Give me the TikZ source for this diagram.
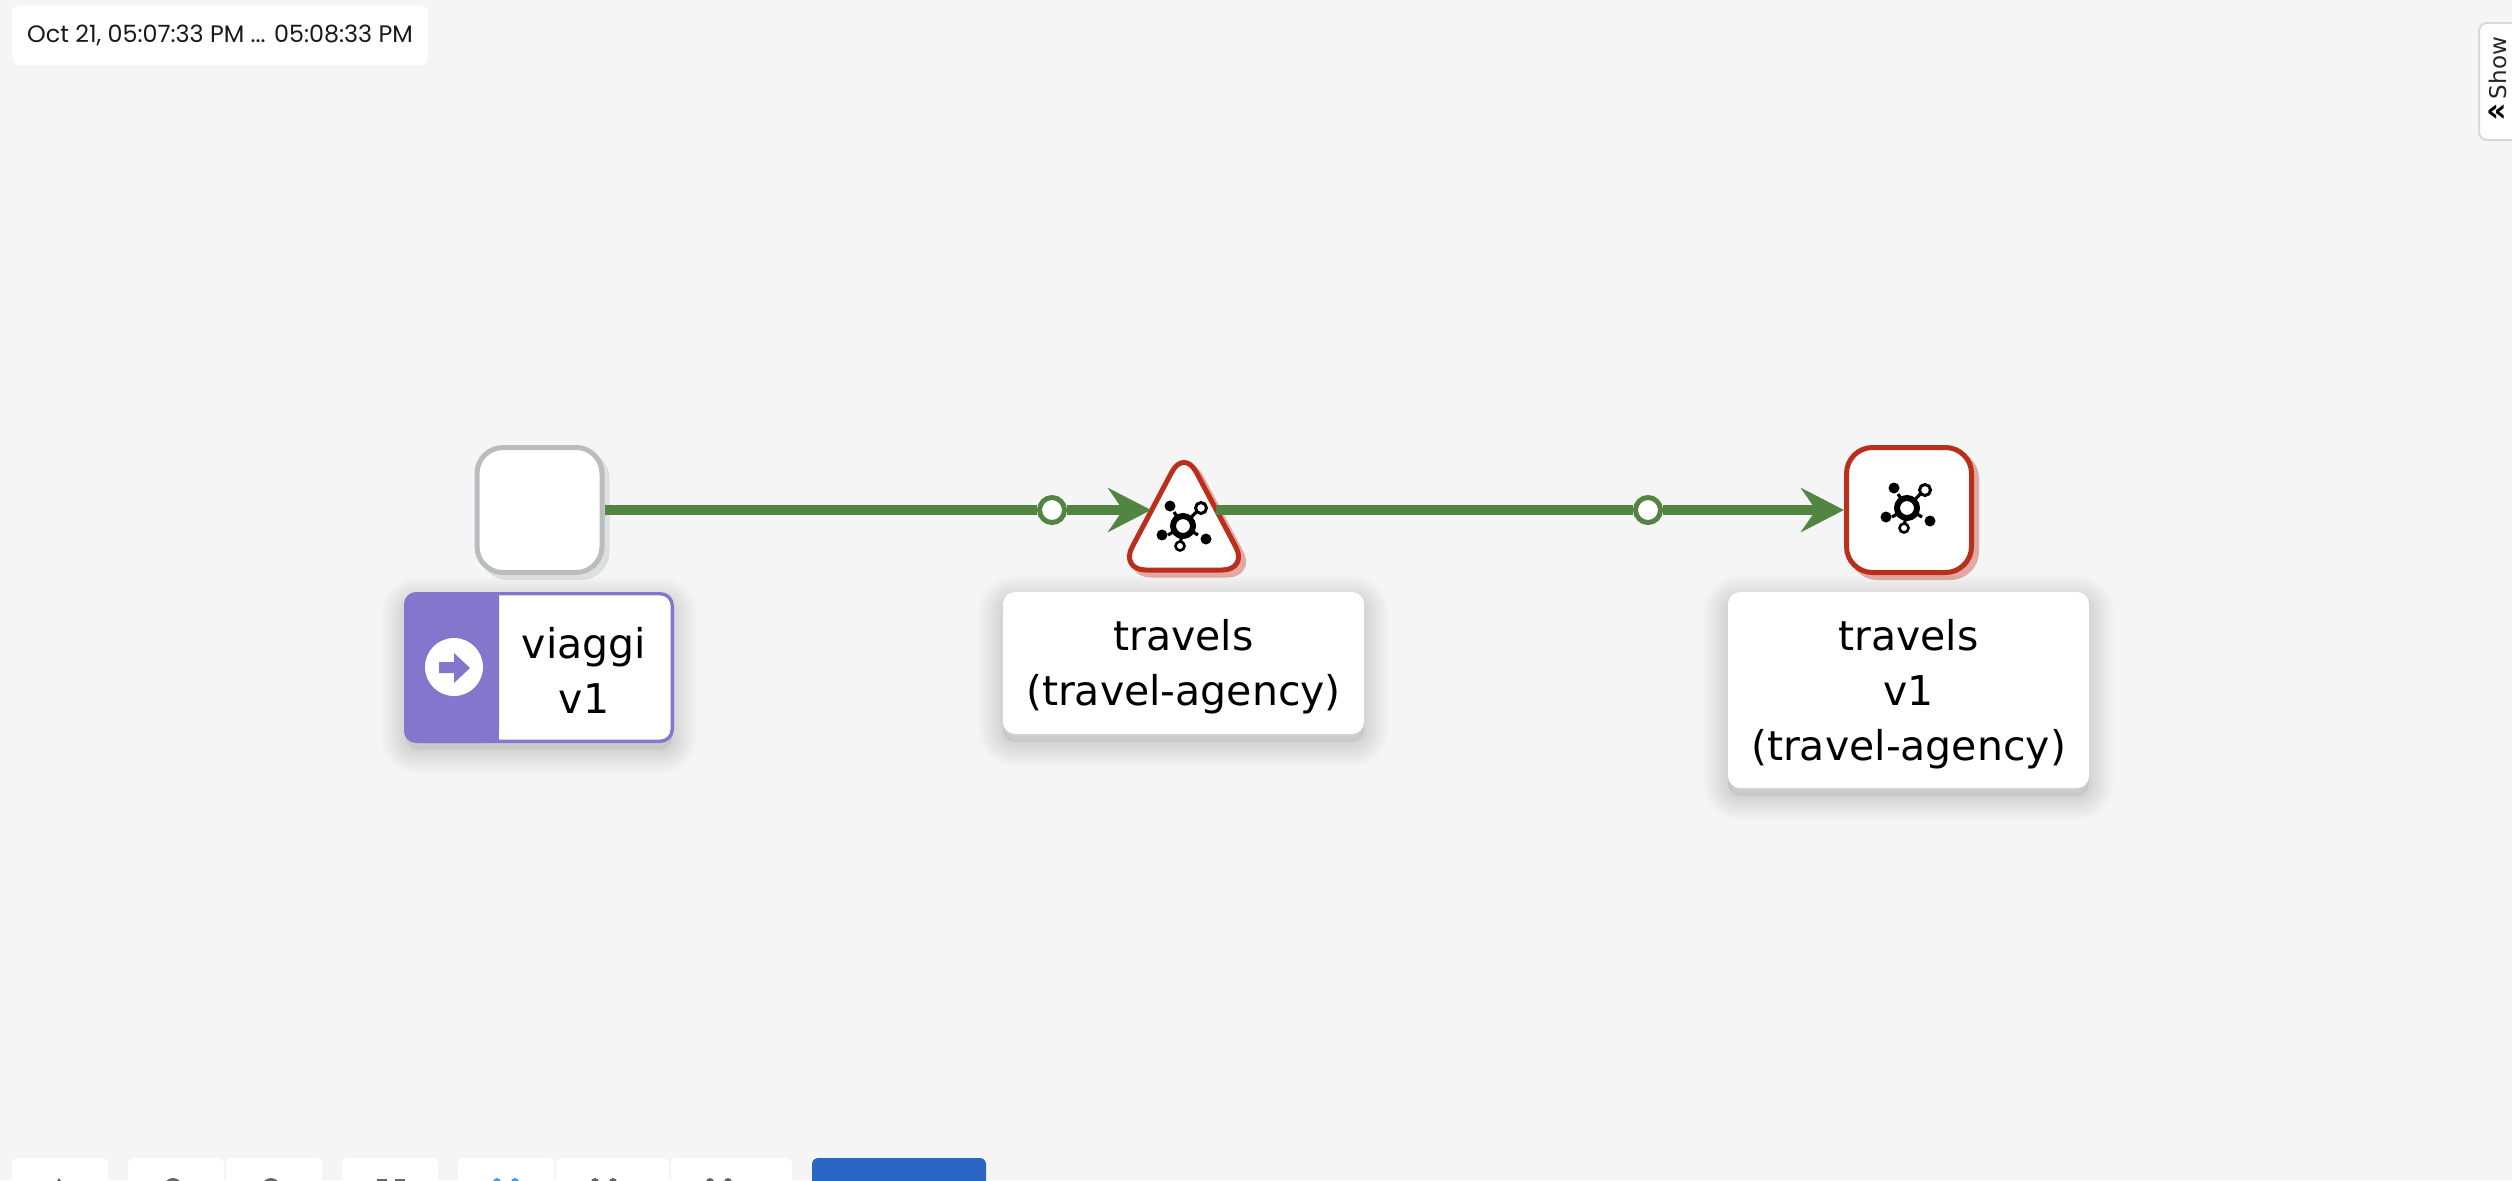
\documentclass[tikz,border=0pt]{standalone}
\usepackage{fontspec}
\setmainfont{DejaVu Sans}
\newfontfamily\stampfont{Poppins}
\usetikzlibrary{
    arrows.meta,
    shapes.geometric,
    shadows,
    positioning
}
\definecolor{canvasgray}{HTML}{F5F5F5}
\definecolor{flowgreen}{HTML}{528442}
\definecolor{alertred}{HTML}{BA2F1B}
\definecolor{alertshade}{HTML}{E2A9A2}
\definecolor{idlegray}{HTML}{BBBCBE}
\definecolor{idleshade}{HTML}{DEDFE0}
\definecolor{gatepurple}{HTML}{8476CC}
\definecolor{barblue}{HTML}{2B66C4}
\tikzstyle{flow} = [
    line width=5pt,
    draw=flowgreen
]
\tikzstyle{flowtip} = [
    -{Stealth[length=21.5pt, width=22pt, inset=7.5pt]}
]
\tikzstyle{waypoint} = [
    circle,
    draw=flowgreen,
    fill=white,
    line width=2.5pt,
    inner sep=0pt,
    minimum size=12.5pt
]
\tikzstyle{service} = [
    rectangle,
    rounded corners=13pt,
    fill=white,
    line width=2.5pt,
    inner sep=0pt,
    minimum size=62.5pt
]
\tikzstyle{alertshape} = [
    isosceles triangle,
    isosceles triangle apex angle=51,
    isosceles triangle stretches,
    shape border rotate=90,
    rounded corners=13pt,
    fill=white,
    draw=alertred,
    line width=2.5pt,
    inner sep=0pt,
    minimum width=64pt,
    minimum height=60.5pt,
    copy shadow={shadow xshift=2.5pt, shadow yshift=-2.5pt, fill=alertshade, draw=alertshade}
]
\tikzset{
    softlayer/.style={preaction={draw=black, draw opacity=0.016, line width=#1, transform canvas={yshift=-4pt}}},
    softshadow/.style={
        preaction={fill=black, fill opacity=0.05, transform canvas={yshift=-4pt}},
        softlayer=3pt, softlayer=6pt, softlayer=9pt, softlayer=12pt,
        softlayer=15pt, softlayer=18pt, softlayer=21pt, softlayer=24pt
    }
}
\tikzstyle{caption} = [
    rectangle,
    rounded corners=6pt,
    fill=white,
    inner sep=0pt,
    softshadow
]
\tikzstyle{captiontext} = [
    align=center,
    inner sep=0pt,
    font=\fontsize{20.5}{27.5}\selectfont
]
\tikzstyle{toolbtn} = [
    fill=white,
    rounded corners=3pt
]
\tikzset{
    meshicon/.pic={
        % spokes
        \draw[line width=1.6pt] (0,0) -- (17,-18);
        \draw[line width=1.6pt] (0,0) -- (-3,20);
        \draw[line width=1.6pt] (0,0) -- (-9,-14);
        \draw[line width=1.6pt] (0,0) -- (-15,9);
        \draw[line width=1.6pt] (0,0) -- (15,9);
        % hub
        \draw[line width=3pt, fill=white] (0,0) circle (10);
        % satellites
        \fill (-13,-20) circle (5.5);
        \fill (-21,9) circle (5.5);
        \fill (23,13) circle (5.5);
        \draw[line width=1.5pt, fill=white] (18,-18) circle (5.5);
        \draw[line width=1.3pt, fill=white] (-3,20) circle (4.5);
    }
}

\begin{document}
\begin{tikzpicture}[x=0.5pt, y=-0.5pt]
    \path[use as bounding box, clip] (0,0) rectangle (2512,1180);
    \fill[canvasgray] (0,0) rectangle (2512,1180);

    % Time range
    \node[fill=white, rounded corners=4pt, minimum width=208pt, minimum height=30pt, inner sep=0pt,
        font=\stampfont\fontsize{11.9}{14}\selectfont, text=black!90] (timerange) at (220,35)
        {Oct 21, 05:07:33 PM ... 05:08:33 PM};

    % Side tab
    \draw[fill=white, draw=black!15, line width=1pt, rounded corners=4pt] (2479,23) rectangle (2530,140);
    \node[rotate=90, font=\fontsize{11.5}{14}\selectfont, inner sep=0pt, text=black!85] (showtab) at (2498,68) {Show};
    \node[font=\bfseries\fontsize{16}{16}\selectfont, inner sep=0pt] (showarrows) at (2497,113) {«};

    % Source workload
    \node[service, draw=idlegray, copy shadow={shadow xshift=2.5pt, shadow yshift=-2.5pt, fill=idleshade, draw=idleshade}] (source) at (539.5,510) {};

    % Gateway label
    \node[caption, draw=gatepurple, line width=1.7pt, minimum width=133.3pt, minimum height=73.8pt] (gatebox) at (539,667.5) {};
    \fill[gatepurple, rounded corners=6pt] (499,592) -- (404,592) -- (404,743) -- (499,743) [sharp corners] -- cycle;
    \fill[gatepurple] (470,592) rectangle (499,743);
    \node[circle, fill=white, inner sep=0pt, minimum size=29pt] (gatebadge) at (454,667) {};
    \fill[gatepurple] (439,662) -- (454,662) -- (454,653) -- (470,668) -- (454,683) -- (454,673) -- (439,673) -- cycle;
    \node[captiontext] (gatetext) at (584,670) {viaggi\\v1};

    % Virtual service
    \node[alertshape, anchor=lower side] (virtual) at (1184,572.5) {};
    \pic at (1183,526) {meshicon};
    \coordinate (virtualin) at (1151,510);
    \coordinate (virtualout) at (1216,510);
    \node[caption, minimum width=180.5pt, minimum height=71pt] (virtuallabel) at (1183.5,663) {};
    \node[captiontext] (virtualtext) at (1183.5,667) {travels\\(travel-agency)};

    % Target workload
    \node[service, draw=alertred, copy shadow={shadow xshift=2.5pt, shadow yshift=-2.5pt, fill=alertshade, draw=alertshade}] (target) at (1909,510) {};
    \pic at (1907,508) {meshicon};
    \node[caption, minimum width=180.5pt, minimum height=98pt] (targetlabel) at (1908.5,690) {};
    \node[captiontext] (targettext) at (1908.5,694) {travels\\v1\\(travel-agency)};

    % Edges
    \node[waypoint] (first) at (1052,510) {};
    \node[waypoint] (second) at (1648,510) {};
    \draw[flow] (source) -- (first);
    \draw[flow, flowtip] (first) -- (virtualin);
    \draw[flow] (virtualout) -- (second);
    \draw[flow, flowtip] (second) -- (target);

    % Toolbar
    \foreach \left/\right in {12/108, 128/224, 226/322, 342/438, 458/554, 556/669, 671/792}
        \fill[toolbtn] (\left,1158) rectangle (\right,1200);
    \fill[barblue, rounded corners=3pt] (812,1158) rectangle (986,1200);
    \fill[black!60] (59,1178) -- (64,1186) -- (54,1186) -- cycle;
    \foreach \mx in {173,271}
        \fill[black!60] (\mx,1187) circle (9);
    \foreach \mx in {377,395}
        \fill[black!60] (\mx,1179) rectangle ++(10,6);
    \foreach \mx in {497,515}
        \fill[cyan!60!blue!70] (\mx,1182) circle (4);
    \foreach \mx in {595,613,710,728}
        \fill[black!60] (\mx,1182) circle (4);
\end{tikzpicture}
\end{document}
